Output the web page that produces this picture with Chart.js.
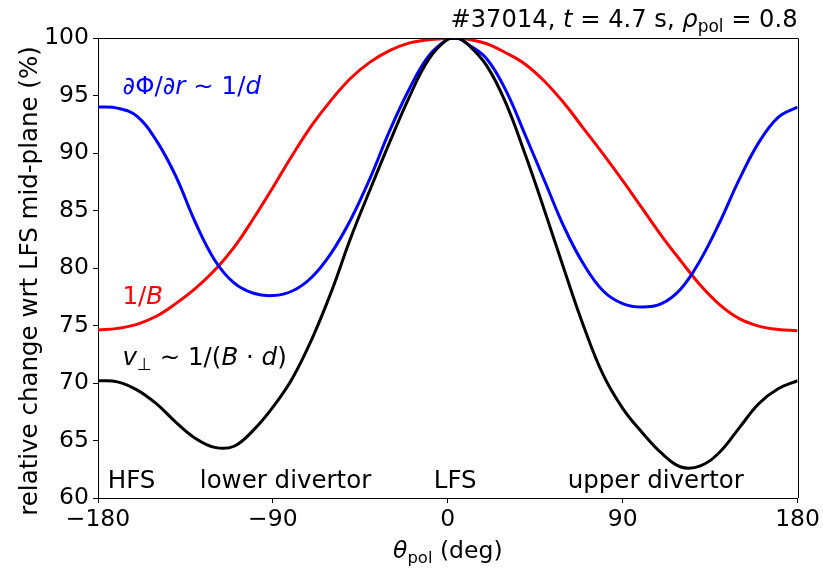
<!DOCTYPE html>
<html>
<head>
<meta charset="utf-8">
<script src="https://cdn.jsdelivr.net/npm/chart.js@4.4.1/dist/chart.umd.min.js"></script>
<style>
  html, body { margin: 0; padding: 0; background: #fff; }
  canvas { display: block; }
</style>
</head>
<body>
<canvas id="polChart" width="823" height="572"></canvas>
<script>
// ========== DATA ==========
const thetaDeg = [-180, -170, -160, -150, -140, -130, -120, -110, -100, -90,
  -80, -70, -60, -50, -40, -30, -20, -10, 0, 5,
  10, 20, 30, 40, 50, 60, 70, 80, 90, 100,
  110, 120, 130, 140, 150, 160, 170, 180];

// 1/B
const invB = [74.6, 74.75, 75.1, 75.8, 76.9, 78.2, 79.8, 81.8, 84.3, 87.0,
  89.8, 92.4, 94.6, 96.5, 97.9, 98.9, 99.55, 99.85, 99.97, 100,
  99.9, 99.5, 98.7, 97.7, 96.2, 94.3, 92.1, 89.9, 87.6, 85.2,
  82.8, 80.6, 78.5, 76.8, 75.6, 74.95, 74.65, 74.55];

// dPhi/dr ~ 1/d
const invD = [94.0, 93.9, 93.2, 91.1, 88.0, 84.0, 80.7, 78.7, 77.8, 77.6,
  78.0, 79.2, 81.3, 84.2, 87.8, 91.9, 95.5, 98.4, 99.9, 100,
  99.5, 98.2, 95.4, 91.5, 87.5, 83.5, 80.3, 78.0, 76.9, 76.6,
  76.9, 78.2, 80.7, 84.0, 87.7, 90.9, 93.1, 94.0];

// v_perp ~ 1/(B d)
const vPerp = [70.2, 70.1, 69.4, 68.2, 66.6, 65.2, 64.4, 64.5, 65.9, 67.9,
  70.4, 73.8, 77.9, 82.6, 86.8, 90.9, 94.8, 98.1, 99.9, 100,
  99.5, 97.6, 94.3, 89.8, 84.9, 79.8, 74.9, 70.7, 67.8, 65.7,
  63.9, 62.7, 62.8, 64.0, 66.1, 68.2, 69.5, 70.2];

const xTicks = [-180, -90, 0, 90, 180];
const yTicks = [60, 65, 70, 75, 80, 85, 90, 95, 100];

// ========== HELPERS ==========
const FONT = '"DejaVu Sans", "Liberation Sans", sans-serif';
const TICK_SIZE = 23.5;
const LABEL_SIZE = 24.5;
const NOTE_SIZE = 24.5;

function toPoints(values) {
  return values.map((v, i) => ({ x: thetaDeg[i], y: v }));
}

// draw text made of several pieces (italic, subscript) on one baseline
function drawRich(ctx, x, y, parts, size, color, align) {
  const pieces = parts.map(p => {
    const s = p.sub ? size * 0.7 : size;
    const f = (p.italic ? 'italic ' : '') + s + 'px ' + FONT;
    ctx.font = f;
    return { text: p.t, font: f, w: ctx.measureText(p.t).width, dy: p.sub ? size * 0.22 : 0 };
  });
  const total = pieces.reduce((a, p) => a + p.w, 0);
  let cx = x;
  if (align === 'right') cx = x - total;
  else if (align === 'center') cx = x - total / 2;
  ctx.fillStyle = color;
  ctx.textAlign = 'left';
  ctx.textBaseline = 'alphabetic';
  pieces.forEach(p => {
    ctx.font = p.font;
    ctx.fillText(p.text, cx, y + p.dy);
    cx += p.w;
  });
}

// ========== TEXT + FRAME PLUGIN ==========
const labelsPlugin = {
  id: 'labelsPlugin',
  afterDraw(chart) {
    const ctx = chart.ctx;
    const xs = chart.scales.x, ys = chart.scales.y;
    const area = chart.chartArea;
    ctx.save();

    // top and right spines
    ctx.strokeStyle = '#000';
    ctx.lineWidth = 1;
    ctx.beginPath();
    ctx.moveTo(Math.round(area.left), Math.round(area.top) + 0.5);
    ctx.lineTo(Math.round(area.right) + 0.5, Math.round(area.top) + 0.5);
    ctx.lineTo(Math.round(area.right) + 0.5, Math.round(area.bottom));
    ctx.stroke();

    // title
    drawRich(ctx, area.right, 27, [
      { t: '#37014, ' }, { t: 't', italic: true }, { t: ' = 4.7 s, ' },
      { t: 'ρ', italic: true }, { t: 'pol', sub: true }, { t: ' = 0.8' }
    ], 24.2, '#000', 'right');

    // x axis label
    drawRich(ctx, (area.left + area.right) / 2, 558, [
      { t: 'θ', italic: true }, { t: 'pol', sub: true }, { t: ' (deg)' }
    ], TICK_SIZE, '#000', 'center');

    // y axis label
    ctx.save();
    ctx.translate(31, 281);
    ctx.rotate(-Math.PI / 2);
    ctx.font = LABEL_SIZE + 'px ' + FONT;
    ctx.fillStyle = '#000';
    ctx.textAlign = 'center';
    ctx.textBaseline = 'middle';
    ctx.fillText('relative change wrt LFS mid-plane (%)', 0, 0);
    ctx.restore();

    // curve labels
    drawRich(ctx, xs.getPixelForValue(-167.4), ys.getPixelForValue(95.1), [
      { t: '∂', italic: true }, { t: 'Φ/' }, { t: '∂', italic: true }, { t: 'r', italic: true },
      { t: ' ∼ 1/' }, { t: 'd', italic: true }
    ], NOTE_SIZE, '#0000ff', 'left');
    drawRich(ctx, xs.getPixelForValue(-167.4), ys.getPixelForValue(76.9), [
      { t: '1/' }, { t: 'B', italic: true }
    ], NOTE_SIZE, '#ff0000', 'left');
    drawRich(ctx, xs.getPixelForValue(-167.4), ys.getPixelForValue(71.6), [
      { t: 'v', italic: true }, { t: '⊥', sub: true }, { t: ' ∼ 1/(' }, { t: 'B', italic: true },
      { t: ' · ' }, { t: 'd', italic: true }, { t: ')' }
    ], NOTE_SIZE, '#000', 'left');

    // region labels
    const baseY = ys.getPixelForValue(60.9);
    drawRich(ctx, xs.getPixelForValue(-175), baseY, [{ t: 'HFS' }], NOTE_SIZE, '#000', 'left');
    drawRich(ctx, xs.getPixelForValue(-127.6), baseY, [{ t: 'lower divertor' }], NOTE_SIZE, '#000', 'left');
    drawRich(ctx, xs.getPixelForValue(-7.2), baseY, [{ t: 'LFS' }], NOTE_SIZE, '#000', 'left');
    drawRich(ctx, xs.getPixelForValue(61.7), baseY, [{ t: 'upper divertor' }], NOTE_SIZE, '#000', 'left');

    ctx.restore();
  }
};

// ========== CHART ==========
const minusSign = v => String(v).replace('-', '\u2212');

const polChart = new Chart(document.getElementById('polChart'), {
  type: 'line',
  data: {
    datasets: [
      { label: 'v_perp', data: toPoints(vPerp), borderColor: '#000000' },
      { label: '1/d', data: toPoints(invD), borderColor: '#0000ff' },
      { label: '1/B', data: toPoints(invB), borderColor: '#ff0000' }
    ].map(d => Object.assign(d, {
      borderWidth: 3,
      pointRadius: 0,
      fill: false,
      tension: 0.4
    }))
  },
  options: {
    responsive: false,
    animation: false,
    layout: { padding: { top: 38, right: 25, left: 0, bottom: 0 } },
    plugins: {
      legend: { display: false },
      tooltip: { enabled: false },
      title: { display: false }
    },
    scales: {
      x: {
        type: 'linear',
        min: -180,
        max: 180,
        afterFit: s => { s.height = 74; },
        afterBuildTicks: s => { s.ticks = xTicks.map(v => ({ value: v })); },
        grid: { drawOnChartArea: false, tickLength: 5, color: '#000' },
        border: { color: '#000', width: 1 },
        ticks: {
          color: '#000',
          padding: 3,
          maxRotation: 0,
          font: { family: FONT, size: TICK_SIZE },
          callback: minusSign
        }
      },
      y: {
        min: 60,
        max: 100,
        afterFit: s => { s.width = 98; },
        afterBuildTicks: s => { s.ticks = yTicks.map(v => ({ value: v })); },
        grid: { drawOnChartArea: false, tickLength: 5, color: '#000' },
        border: { color: '#000', width: 1 },
        ticks: {
          color: '#000',
          padding: 4,
          font: { family: FONT, size: TICK_SIZE },
          callback: minusSign
        }
      }
    }
  },
  plugins: [labelsPlugin]
});
</script>
</body>
</html>
